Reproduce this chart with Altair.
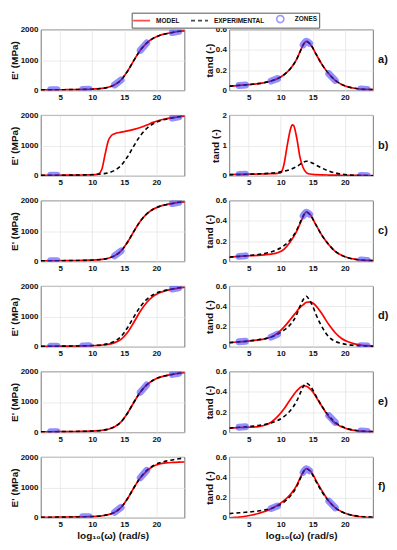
import altair as alt
import pandas as pd

FONT = "Liberation Sans"
NAMES = ["MODEL", "EXPERIMENTAL", "ZONES"]
XTITLE = "log\u2081\u2080(\u03c9) (rad/s)"

# x grids (log10 of angular frequency)
X = [2, 2.5, 3.5, 4.5, 5.5, 6.5, 7.5, 8.5, 9.5, 10.5, 11.5, 12.5, 13.5, 14.5,
     15.5, 16.5, 17.5, 18.5, 19.5, 20.5, 21.5, 22.5, 23.5, 24.4]
XT = [2, 2.5, 3.5, 4.5, 5.5, 6.5, 7.5, 8.5, 9.5, 10.5, 11.5, 12.5, 13, 13.5, 14,
      14.5, 15, 15.5, 16.5, 17.5, 18.5, 19.5, 20.5, 21.5, 22.5, 23.5, 24.4]
XB = [2, 2.5, 3.5, 4.5, 5.5, 6.5, 7.5, 8.5, 9.5, 10.5, 11, 11.5, 12, 12.5, 13,
      13.5, 14.5, 15.5, 16.5, 17.5, 18.5, 19.5, 20.5, 21.5, 22.5, 23.5, 24.4]
XBT = [2, 2.5, 3.5, 4.5, 5.5, 6.5, 7.5, 8.5, 9, 9.5, 10, 10.5, 11, 11.5, 11.8,
       12, 12.5, 13, 13.5, 14, 14.5, 15.5, 16.5, 17.5, 18.5, 19.5, 20.5, 21.5,
       22.5, 23.5, 24.4]

# storage modulus E' (MPa), experimental
EXP_E = [18, 19, 21, 23, 25, 27, 30, 34, 40, 50, 68, 105, 185, 345, 630, 990,
         1320, 1560, 1715, 1810, 1865, 1905, 1945, 1965]
# storage modulus E' (MPa), models
MODEL_E_A = [18, 19, 21, 23, 25, 27, 30, 34, 40, 50, 68, 105, 185, 345, 630, 990,
             1320, 1560, 1715, 1810, 1865, 1905, 1940, 1960]
MODEL_E_B = [18, 19, 21, 23, 25, 27, 29, 31, 35, 45, 70, 220, 700, 1150, 1330,
             1390, 1440, 1480, 1530, 1595, 1675, 1760, 1830, 1880, 1915, 1945, 1965]
MODEL_E_C = [18, 19, 21, 23, 25, 27, 30, 34, 40, 50, 68, 105, 185, 345, 630, 990,
             1320, 1560, 1715, 1810, 1865, 1905, 1940, 1960]
MODEL_E_D = [18, 19, 21, 23, 25, 27, 30, 33, 38, 46, 60, 85, 140, 250, 470, 810,
             1170, 1460, 1660, 1780, 1850, 1900, 1935, 1955]
MODEL_E_E = [18, 19, 21, 23, 25, 27, 30, 34, 40, 50, 68, 105, 185, 345, 630, 990,
             1320, 1560, 1715, 1810, 1865, 1905, 1940, 1960]
MODEL_E_F = [18, 19, 21, 23, 25, 27, 30, 34, 40, 50, 68, 105, 185, 345, 630, 990,
             1310, 1540, 1700, 1770, 1805, 1822, 1832, 1836]

# loss factor tan(delta), experimental
EXP_T = [0.042, 0.045, 0.050, 0.055, 0.061, 0.068, 0.078, 0.093, 0.117, 0.155,
         0.215, 0.31, 0.38, 0.45, 0.485, 0.465, 0.42, 0.36, 0.25, 0.165, 0.10,
         0.06, 0.036, 0.022, 0.014, 0.010, 0.008]
EXP_T_D = [0.042, 0.045, 0.050, 0.055, 0.062, 0.070, 0.080, 0.097, 0.125, 0.165,
           0.22, 0.32, 0.40, 0.465, 0.50, 0.46, 0.40, 0.32, 0.19, 0.10, 0.055,
           0.035, 0.022, 0.016, 0.012, 0.009, 0.007]
# loss factor tan(delta), models
MODEL_T_A = [0.042, 0.045, 0.050, 0.055, 0.061, 0.068, 0.078, 0.093, 0.117, 0.155,
             0.215, 0.31, 0.38, 0.45, 0.485, 0.465, 0.42, 0.36, 0.25, 0.165, 0.10,
             0.06, 0.036, 0.022, 0.014, 0.010, 0.008]
MODEL_T_B = [0.045, 0.048, 0.052, 0.056, 0.06, 0.064, 0.068, 0.074, 0.078, 0.086,
             0.11, 0.37, 0.98, 1.52, 1.68, 1.66, 1.25, 0.62, 0.27, 0.11, 0.065,
             0.042, 0.034, 0.03, 0.027, 0.024, 0.022, 0.02, 0.018, 0.016, 0.015]
MODEL_T_C = [0.042, 0.045, 0.050, 0.054, 0.057, 0.060, 0.065, 0.072, 0.085, 0.12,
             0.195, 0.30, 0.37, 0.44, 0.49, 0.47, 0.42, 0.36, 0.25, 0.165, 0.10,
             0.06, 0.036, 0.022, 0.014, 0.010, 0.008]
MODEL_T_D = [0.042, 0.045, 0.050, 0.055, 0.062, 0.070, 0.080, 0.097, 0.135, 0.195,
             0.27, 0.35, 0.39, 0.415, 0.44, 0.443, 0.433, 0.405, 0.32, 0.22, 0.14,
             0.083, 0.05, 0.03, 0.019, 0.012, 0.009]
MODEL_T_E = [0.042, 0.044, 0.048, 0.050, 0.052, 0.056, 0.070, 0.10, 0.155, 0.23,
             0.325, 0.41, 0.44, 0.46, 0.455, 0.435, 0.40, 0.35, 0.25, 0.155, 0.09,
             0.055, 0.032, 0.019, 0.012, 0.009, 0.007]
MODEL_T_F = [0.0, 0.003, 0.008, 0.016, 0.028, 0.043, 0.062, 0.09, 0.125, 0.17,
             0.23, 0.32, 0.39, 0.45, 0.485, 0.47, 0.43, 0.37, 0.26, 0.165, 0.10,
             0.06, 0.035, 0.02, 0.011, 0.005, 0.002]

# fitting zones (centres on the log10(w) axis)
ZONES_A = [4, 9, 14, 18, 23]
ZONES_B = [4, 23]
ZONES_C = [4, 14, 23]
ZONES_D = [4, 9, 23]
ZONES_E = [4, 18, 23]
ZONES_F = [9, 14, 18]

LABELS = ["a)", "b)", "c)", "d)", "e)", "f)"]

ROWS = [
    (X, MODEL_E_A, XT, MODEL_T_A, EXP_T, ZONES_A, [0, 0.6], [0, 0.2, 0.4, 0.6]),
    (XB, MODEL_E_B, XBT, MODEL_T_B, EXP_T, ZONES_B, [0, 2], [0, 1, 2]),
    (X, MODEL_E_C, XT, MODEL_T_C, EXP_T, ZONES_C, [0, 0.6], [0, 0.2, 0.4, 0.6]),
    (X, MODEL_E_D, XT, MODEL_T_D, EXP_T_D, ZONES_D, [0, 0.6], [0, 0.2, 0.4, 0.6]),
    (X, MODEL_E_E, XT, MODEL_T_E, EXP_T, ZONES_E, [0, 0.6], [0, 0.2, 0.4, 0.6]),
    (X, MODEL_E_F, XT, MODEL_T_F, EXP_T, ZONES_F, [0, 0.6], [0, 0.2, 0.4, 0.6]),
]

W, H = 144, 61


def zone_frame(xe, ye, zones):
    recs = []
    for c in zones:
        for xx, yy in zip(xe, ye):
            if abs(xx - c) <= 0.5:
                recs.append({"x": xx, "y": yy, "zone": c})
    return pd.DataFrame(recs)


def panel(xm, ym, xe, ye, zones, ydom, yvals, yfmt, ytitle, bottom, legend=False, label=None):
    xenc = alt.X("x:Q", scale=alt.Scale(domain=[2, 24.4], nice=False, zero=False),
                 axis=alt.Axis(values=[5, 10, 15, 20], format="d", titlePadding=2,
                               title=XTITLE if bottom else None))
    yenc = alt.Y("y:Q", scale=alt.Scale(domain=ydom, nice=False, zero=False),
                 axis=alt.Axis(values=yvals, format=yfmt, title=ytitle))
    model = alt.Chart(pd.DataFrame({"x": xm, "y": ym})).mark_line(
        color="#ff0000", strokeWidth=1.7, interpolate="monotone", clip=True
    ).encode(x=xenc, y=yenc)
    exp = alt.Chart(pd.DataFrame({"x": xe, "y": ye})).mark_line(
        color="#000000", strokeWidth=1.6, strokeDash=[4, 3], interpolate="monotone", clip=True
    ).encode(x=xenc, y=yenc)
    zn = alt.Chart(zone_frame(xe, ye, zones)).mark_line(
        color="#3535ff", strokeWidth=7, opacity=0.55, strokeCap="round",
        interpolate="monotone", clip=True
    ).encode(x=xenc, y=yenc, detail="zone:N")
    layers = [model, exp, zn]
    if legend:
        leg = alt.Chart(pd.DataFrame({"series": NAMES})).mark_point(filled=False).encode(
            color=alt.Color("series:N",
                            scale=alt.Scale(domain=NAMES, range=["#ff0000", "#000000", "#6f6fff"]),
                            legend=alt.Legend(title=None, orient="none", legendX=91, legendY=-17,
                                              direction="horizontal", labelFont=FONT,
                                              labelFontSize=6.5, labelFontWeight="bold",
                                              labelColor="#111111", symbolStrokeWidth=1.6,
                                              strokeColor="#555555", fillColor="white",
                                              padding=1.5, columnPadding=7, labelOffset=10,
                                              symbolOffset=4)),
            shape=alt.Shape("series:N",
                            scale=alt.Scale(domain=NAMES, range=["M-2.4,0H2.4", "M-2.4,0H2.4", "circle"])),
            size=alt.Size("series:N", scale=alt.Scale(domain=NAMES, range=[50, 50, 40])),
            strokeDash=alt.StrokeDash("series:N",
                                      scale=alt.Scale(domain=NAMES, range=[[1, 0], [4, 3], [1, 0]])),
        ).transform_filter("false")
        layers.append(leg)
    if label:
        txt = alt.Chart(pd.DataFrame({"label": [label]})).mark_text(
            align="left", baseline="middle", font=FONT, fontSize=11, fontWeight="bold",
            color="#111111"
        ).encode(x=alt.value(W + 5), y=alt.value(H / 2), text="label:N")
        layers.append(txt)
    return alt.layer(*layers).properties(width=W, height=H)


panels = []
for i, (xm_e, me, xm_t, mt, et, zones, tdom, tvals) in enumerate(ROWS):
    bottom = i == len(ROWS) - 1
    panels.append(panel(xm_e, me, X, EXP_E, zones, [0, 2000], [0, 1000, 2000], "d",
                        "E' (MPa)", bottom, legend=(i == 0)))
    panels.append(panel(xm_t, mt, XT, et, zones, tdom, tvals, "~r", "tand (-)", bottom,
                        label=LABELS[i]))

chart = alt.concat(*panels, columns=2, spacing={"row": 24.7, "column": 45}, bounds="flush").properties(
    padding={"left": 0, "top": 3, "right": 0, "bottom": 0}
).configure(background="white").configure_view(
    stroke="#555555", strokeWidth=0.8
).configure_axis(
    grid=True, gridColor="#e2e2e2", gridWidth=0.7, domain=False, ticks=False,
    labelFont=FONT, labelFontSize=8, labelFontWeight="bold", labelColor="#111111",
    labelPadding=3, titleFont=FONT, titleFontSize=10, titleFontWeight="bold",
    titleColor="#111111", titlePadding=1, labelOverlap=False
)

chart.save("out.html", embed_options={"renderer": "svg", "actions": False})
